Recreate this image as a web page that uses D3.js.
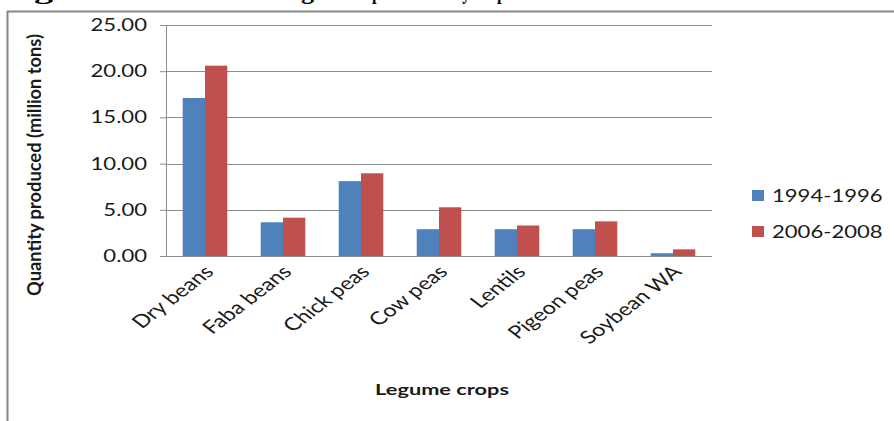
<!DOCTYPE html>
<html>
<head>
<meta charset="utf-8">
<script src="https://cdn.jsdelivr.net/npm/d3@7"></script>
<style>
  html, body { margin: 0; padding: 0; background: #fff; }
  svg { display: block; }
  text { font-family: Lato, "Open Sans", sans-serif; fill: #1a1a1a; }
</style>
</head>
<body>
<svg id="chart" width="894" height="421"></svg>
<script>
const categories = ["Dry beans", "Faba beans", "Chick peas", "Cow peas", "Lentils", "Pigeon peas", "Soybean WA"];
const seriesNames = ["1994-1996", "2006-2008"];
const values1994 = [17.1, 3.65, 8.1, 2.9, 2.9, 2.9, 0.3];
const values2006 = [20.6, 4.15, 8.95, 5.27, 3.3, 3.75, 0.72];
const yTicks = [0, 5, 10, 15, 20, 25];
const colors = ["#4F81BD", "#C0504D"];
const yTitle = "Quantity produced (million tons)";
const xTitle = "Legume crops";
// pieces of the page title that is cut off at the top of the picture
const clippedTitleParts = ["Figure 2: Global", "legume", "production by crop"];

const SX = 1.3; // horizontal stretch of the original picture
const svg = d3.select("#chart");

const plot = { left: 166, right: 712, top: 25, bottom: 256 };

const y = d3.scaleLinear().domain([0, 25]).range([plot.bottom, plot.top]);
const gap = 1.5 / 3.5;
const x = d3.scaleBand().domain(categories).range([plot.left, plot.right])
  .paddingInner(gap).paddingOuter(gap / 2);
const xs = d3.scaleBand().domain(seriesNames).range([0, x.bandwidth()]);

// Clipped title at top (only descenders visible)
const titleX = [0, 282, 372];
const titleLen = [270, 80, 134];
svg.append("g").selectAll("text").data(clippedTitleParts).join("text")
  .attr("x", (d, i) => titleX[i])
  .attr("y", -1)
  .attr("textLength", (d, i) => titleLen[i])
  .attr("lengthAdjust", "spacingAndGlyphs")
  .style("font-family", "'Liberation Serif', serif")
  .style("font-weight", "bold")
  .style("font-size", "24px")
  .style("fill", "#000")
  .text(d => d);

// Outer chart border
svg.append("rect")
  .attr("x", 7.5).attr("y", 11.5)
  .attr("width", 900).attr("height", 430)
  .attr("fill", "none").attr("stroke", "#878787").attr("stroke-width", 2);

// y axis + ticks
const yAxis = d3.axisLeft(y).tickValues(yTicks).tickSize(6).tickFormat(d3.format(".2f"));
const yg = svg.append("g").attr("transform", `translate(${plot.left},0)`).call(yAxis);
yg.select(".domain").attr("stroke", "#8c8c8c").attr("d", `M0.5,${plot.top}V${plot.bottom}`);
yg.selectAll(".tick line").attr("stroke", "#8c8c8c");
yg.selectAll(".tick text").remove();

// Gridlines
svg.append("g").selectAll("line").data(yTicks.filter(d => d > 0)).join("line")
  .attr("x1", plot.left).attr("x2", plot.right)
  .attr("y1", d => Math.round(y(d)) + 0.5).attr("y2", d => Math.round(y(d)) + 0.5)
  .attr("stroke", "#8c8c8c").attr("stroke-width", 1);

// y tick labels (stretched)
svg.append("g").selectAll("text").data(yTicks).join("text")
  .attr("transform", d => `translate(147,${y(d) + 6}) scale(${SX},1)`)
  .attr("text-anchor", "end")
  .style("font-size", "17px")
  .text(d3.format(".2f"));

// Bars
const data = categories.map((c, i) => ({ cat: c, vals: [values1994[i], values2006[i]] }));
const groups = svg.append("g").selectAll("g").data(data).join("g")
  .attr("transform", d => `translate(${x(d.cat)},0)`);
groups.selectAll("rect").data(d => d.vals.map((v, j) => ({ s: seriesNames[j], v, j }))).join("rect")
  .attr("x", d => xs(d.s))
  .attr("width", xs.bandwidth())
  .attr("y", d => y(d.v))
  .attr("height", d => y(0) - y(d.v))
  .attr("fill", d => colors[d.j]);

// X axis line
svg.append("line")
  .attr("x1", plot.left - 6).attr("x2", plot.right)
  .attr("y1", plot.bottom + 0.5).attr("y2", plot.bottom + 0.5)
  .attr("stroke", "#8c8c8c");

// X labels rotated
svg.append("g").selectAll("text").data(categories).join("text")
  .attr("transform", d => `translate(${x(d) + x.bandwidth() / 2 + 10},${plot.bottom + 17}) scale(${SX},1) rotate(-45)`)
  .attr("text-anchor", "end")
  .style("font-size", "18px")
  .text(d => d);

// Y title
svg.append("text")
  .attr("transform", `translate(41,165) scale(${SX},1) rotate(-90)`)
  .attr("text-anchor", "middle")
  .attr("textLength", 262).attr("lengthAdjust", "spacingAndGlyphs")
  .style("font-size", "15px").style("font-weight", "bold")
  .text(yTitle);

// X title
svg.append("text")
  .attr("transform", `translate(442,395) scale(${SX},1)`)
  .attr("text-anchor", "middle")
  .attr("textLength", 103).attr("lengthAdjust", "spacingAndGlyphs")
  .style("font-size", "16px").style("font-weight", "bold")
  .text(xTitle);

// Legend
const leg = svg.append("g").selectAll("g").data(seriesNames).join("g")
  .attr("transform", (d, i) => `translate(752,${190 + i * 36})`);
leg.append("rect").attr("width", 12).attr("height", 11).attr("fill", (d, i) => colors[i]);
leg.append("text")
  .attr("transform", `translate(20,12) scale(${SX},1)`)
  .style("font-size", "17px")
  .text(d => d);
</script>
</body>
</html>
